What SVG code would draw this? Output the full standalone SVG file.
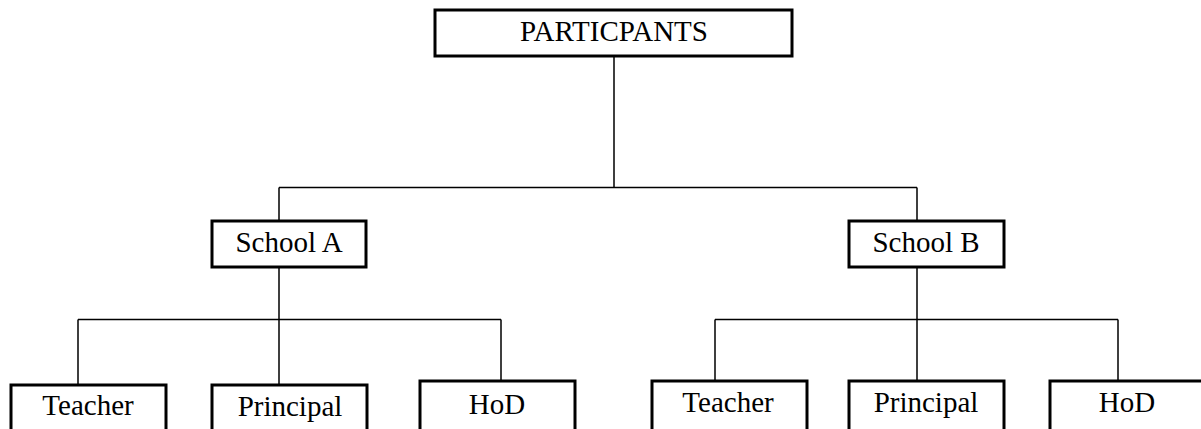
<svg xmlns="http://www.w3.org/2000/svg" width="1201" height="429" viewBox="0 0 1201 429">
<style>
.box{fill:#fff;stroke:#000;stroke-width:3}
.lbl{font-family:"Liberation Serif","Times New Roman",serif;font-size:29px;fill:#000;text-anchor:middle}
.conn{fill:none;stroke:#000;stroke-width:1.5}
</style>
<rect width="1201" height="429" fill="#fff"/>
<g id="connectors" class="conn">
<path d="M614 56 V187.5 M279 187.5 H917 M279 187.5 V221 M917 187.5 V221"/>
<path d="M279 267 V319.5 M78 319.5 H501 M78 319.5 V385 M279 319.5 V385 M501 319.5 V381"/>
<path d="M917 267 V319.5 M715 319.5 H1118 M715 319.5 V381 M917 319.5 V381 M1118 319.5 V381"/>
</g>
<g id="participants"><rect class="box" x="435" y="10" width="357" height="46"/><text class="lbl" x="614" y="41">PARTICPANTS</text></g>
<g id="schoolA"><rect class="box" x="212" y="221" width="154" height="46"/><text class="lbl" x="289" y="252">School A</text></g>
<g id="schoolB"><rect class="box" x="849" y="221" width="155" height="46"/><text class="lbl" x="926" y="252">School B</text></g>
<g id="teacherA"><rect class="box" x="11" y="385" width="155" height="60"/><text class="lbl" x="88" y="415">Teacher</text></g>
<g id="principalA"><rect class="box" x="212" y="385" width="155" height="60"/><text class="lbl" x="290" y="416">Principal</text></g>
<g id="hodA"><rect class="box" x="420" y="381" width="155" height="60"/><text class="lbl" x="497" y="414">HoD</text></g>
<g id="teacherB"><rect class="box" x="652" y="381" width="155" height="60"/><text class="lbl" x="728" y="412">Teacher</text></g>
<g id="principalB"><rect class="box" x="849" y="381" width="155" height="60"/><text class="lbl" x="926" y="412">Principal</text></g>
<g id="hodB"><rect class="box" x="1050" y="381" width="155" height="60"/><text class="lbl" x="1127" y="412">HoD</text></g>
</svg>
